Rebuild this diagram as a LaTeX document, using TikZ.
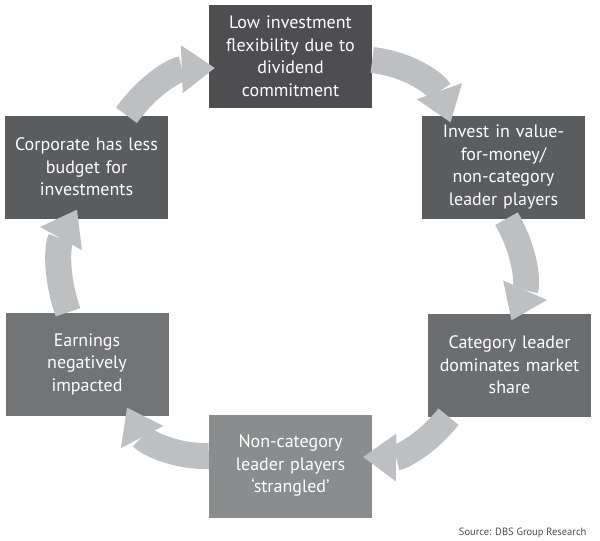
\documentclass[tikz,border=0pt]{standalone}
\usepackage{fontspec}
\setmainfont{PT Sans}
\usepackage{tikz}
\usetikzlibrary{arrows.meta}

\definecolor{shadeA}{HTML}{4E4E50}
\definecolor{shadeB}{HTML}{5B5C5E}
\definecolor{shadeC}{HTML}{6C6D6F}
\definecolor{shadeD}{HTML}{727375}
\definecolor{shadeE}{HTML}{8B8C8E}
\definecolor{loopgray}{HTML}{BEBFC0}
\definecolor{sourcegray}{HTML}{4A4A4A}

\begin{document}
\begin{tikzpicture}[x=1pt, y=-1pt,
  stage/.style={minimum width=163pt, minimum height=103pt, inner sep=0pt,
    text width=155pt, align=center, text=white,
    font=\fontsize{18}{22.5}\selectfont},
  loop/.style={line width=26pt, draw=loopgray,
    -{Triangle[length=33pt, width=48pt, line width=0pt]}}]
  \useasboundingbox (0,0) rectangle (600,541);

  % Stages of the cycle
  \node[stage, fill=shadeA] (lowflex) at (290.5,56) {Low investment\\flexibility due to\\dividend\\commitment};
  \node[stage, fill=shadeB] (invest) at (503.5,167) {Invest in value-\\for-money/\\non-category\\leader players};
  \node[stage, fill=shadeC] (leader) at (509.5,365) {Category leader\\dominates market\\share};
  \node[stage, fill=shadeE] (strangled) at (290.5,466) {Non-category\\leader players\\‘strangled’};
  \node[stage, fill=shadeD] (earnings) at (87,364) {Earnings\\negatively\\impacted};
  \node[stage, fill=shadeB] (budget) at (86.5,167) {Corporate has less\\budget for\\investments};

  % Curved arrows going round clockwise
  \draw[loop] ([yshift=-4pt]lowflex.east) to[bend left=32] ([xshift=-53pt,yshift=-7pt]invest.north);
  \draw[loop] ([xshift=3pt]invest.south) to[bend left=27] ([xshift=2pt,yshift=-7pt]leader.north);
  \draw[loop] ([xshift=-61pt]leader.south) to[bend left=26] ([xshift=-9pt,yshift=9pt]strangled.east);
  \draw[loop] ([yshift=10pt]strangled.west) to[bend left=32] ([xshift=40pt,yshift=8pt]earnings.south);
  \draw[loop] ([xshift=-19pt]earnings.north) to[bend left=24] ([xshift=-9.5pt,yshift=9pt]budget.south);
  \draw[loop] ([xshift=40pt]budget.north) to[bend left=26] ([xshift=6pt,yshift=-12pt]lowflex.west);

  \node[anchor=base east, text=sourcegray, font=\fontsize{10.5}{12}\selectfont] (source) at (590,535) {Source: DBS Group Research};
\end{tikzpicture}
\end{document}
